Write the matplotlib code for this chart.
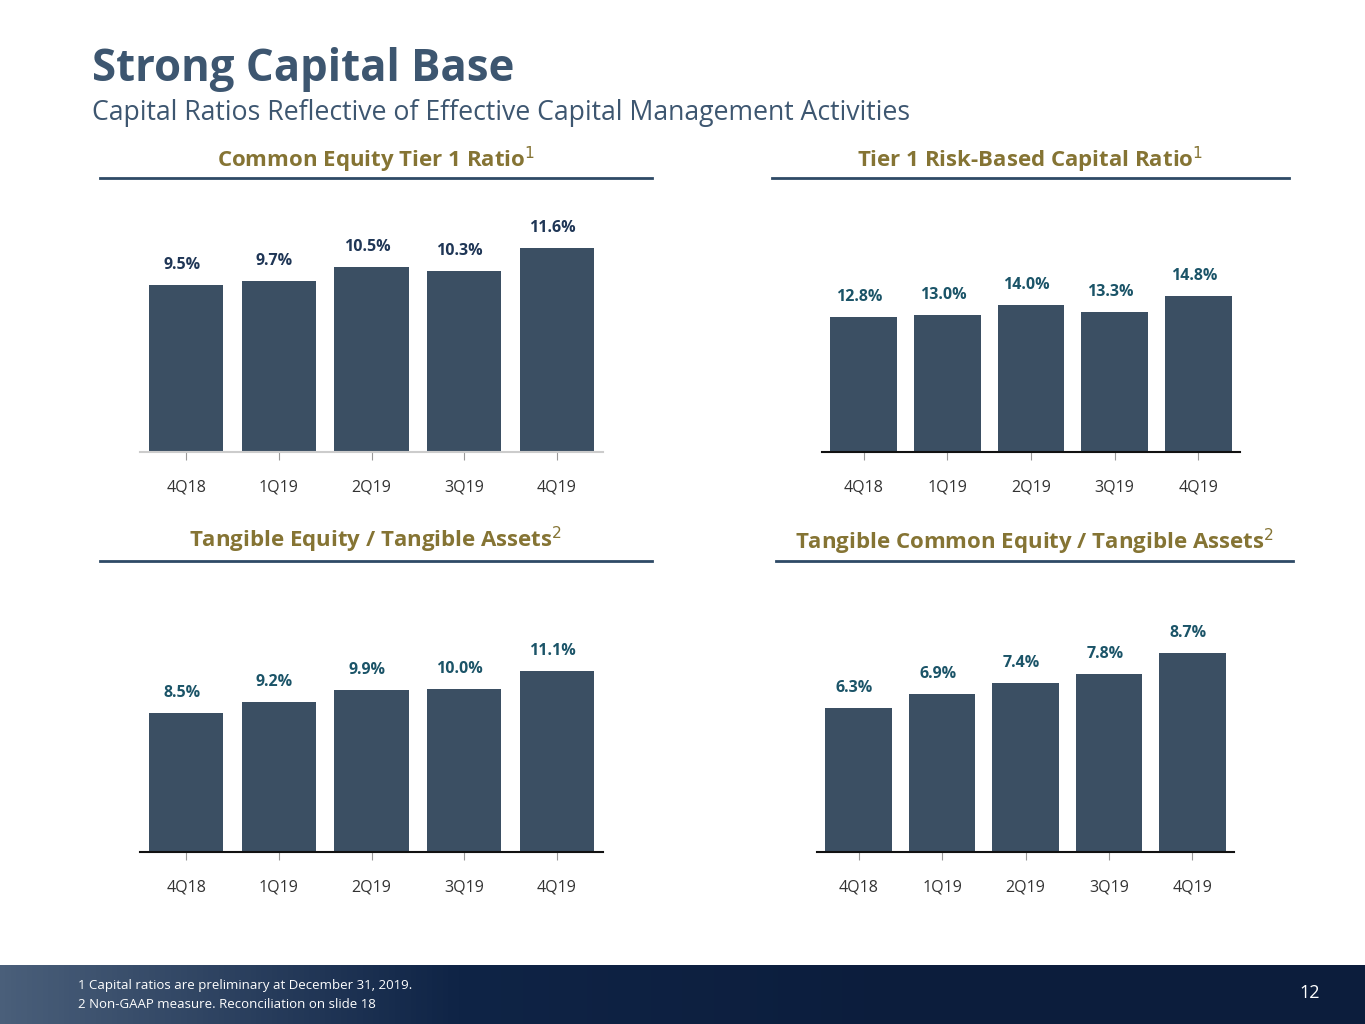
import numpy as np
import matplotlib.pyplot as plt
from matplotlib.colors import LinearSegmentedColormap

quarters = ['4Q18', '1Q19', '2Q19', '3Q19', '4Q19']
cet1 = [9.5, 9.7, 10.5, 10.3, 11.6]
tier1 = [12.8, 13.0, 14.0, 13.3, 14.8]
te_ta = [8.5, 9.2, 9.9, 10.0, 11.1]
tce_ta = [6.3, 6.9, 7.4, 7.8, 8.7]

W, H = 1365, 1024
fig = plt.figure(figsize=(W / 100, H / 100), dpi=100)
plt.rcParams['font.family'] = ['Open Sans', 'DejaVu Sans']

BAR = '#3b4f63'
NAVY = '#2e4a66'
OLIVE = '#857434'


def px(x0, y0, x1, y1):
    return [x0 / W, 1 - y1 / H, (x1 - x0) / W, (y1 - y0) / H]


fig.text(92 / W, 1 - 70 / H, 'Strong Capital Base', fontsize=31.5, fontweight='bold',
         color='#3d5670', va='center')
fig.text(92 / W, 1 - 113 / H, 'Capital Ratios Reflective of Effective Capital Management Activities',
         fontsize=19.2, color='#3d5670', va='center')

panels = [
    (cet1, 'Common Equity Tier 1 Ratio$^1$', (140, 603), 452, 13.65, (100, 652), 178, 160, '#1f3656', '#cccccc'),
    (tier1, 'Tier 1 Risk-Based Capital Ratio$^1$', (822, 1240), 452, 22.8, (772, 1289), 178, 160, '#1b5468', '#111111'),
    (te_ta, 'Tangible Equity / Tangible Assets$^2$', (140, 603), 852, 14.7, (100, 652), 561, 540, '#1b5468', '#111111'),
    (tce_ta, 'Tangible Common Equity / Tangible Assets$^2$', (817, 1234), 852, 10.5, (776, 1293), 561, 542, '#1b5468', '#111111'),
]

for vals, title, (x0, x1), base, ymax, (l0, l1), ly, ty, lc, bc in panels:
    ax = fig.add_axes(px(x0, base - 240, x1, base))
    x = np.arange(len(quarters))
    ax.bar(x, vals, width=0.8, color=BAR)
    ax.set_xlim(-0.5, 4.5)
    ax.set_ylim(0, ymax)
    for xi, v in zip(x, vals):
        ax.text(xi - 0.05, v + ymax * 0.05, f'{v:.1f}%', ha='center', va='bottom',
                fontsize=11.5, fontweight='bold', color=lc)
    for s in ['top', 'right', 'left']:
        ax.spines[s].set_visible(False)
    ax.spines['bottom'].set_color(bc)
    ax.spines['bottom'].set_linewidth(1.5)
    ax.set_yticks([])
    ax.set_xticks(x)
    ax.set_xticklabels(quarters, fontsize=11.5, color='#333333')
    ax.tick_params(axis='x', length=6, color='#999999', pad=14)
    ax.patch.set_visible(False)
    fig.text((l0 + l1) / 2 / W, 1 - ty / H, title, ha='center', va='center',
             fontsize=16, fontweight='bold', color=OLIVE)
    fig.add_artist(plt.Line2D([l0 / W, l1 / W], [1 - ly / H] * 2, color=NAVY, lw=2))

# footer band
fax = fig.add_axes([0, 0, 1, 59 / H])
grad = np.linspace(0, 1, 256).reshape(1, -1)
cmap = LinearSegmentedColormap.from_list('f', ['#4a5f7a', '#0f2446', '#0c1d3c', '#0c1d3c'])
fax.imshow(grad, aspect='auto', cmap=cmap, extent=[0, 1, 0, 1])
fax.set_axis_off()
fig.text(78 / W, 1 - 986 / H, '1 Capital ratios are preliminary at December 31, 2019.',
         fontsize=9.5, color='white', va='center')
fig.text(78 / W, 1 - 1004 / H, '2 Non-GAAP measure. Reconciliation on slide 18',
         fontsize=9.5, color='white', va='center')
fig.text(1320 / W, 1 - 993 / H, '12', fontsize=13, color='white', ha='right', va='center')

fig.savefig('out.png', dpi=100)
